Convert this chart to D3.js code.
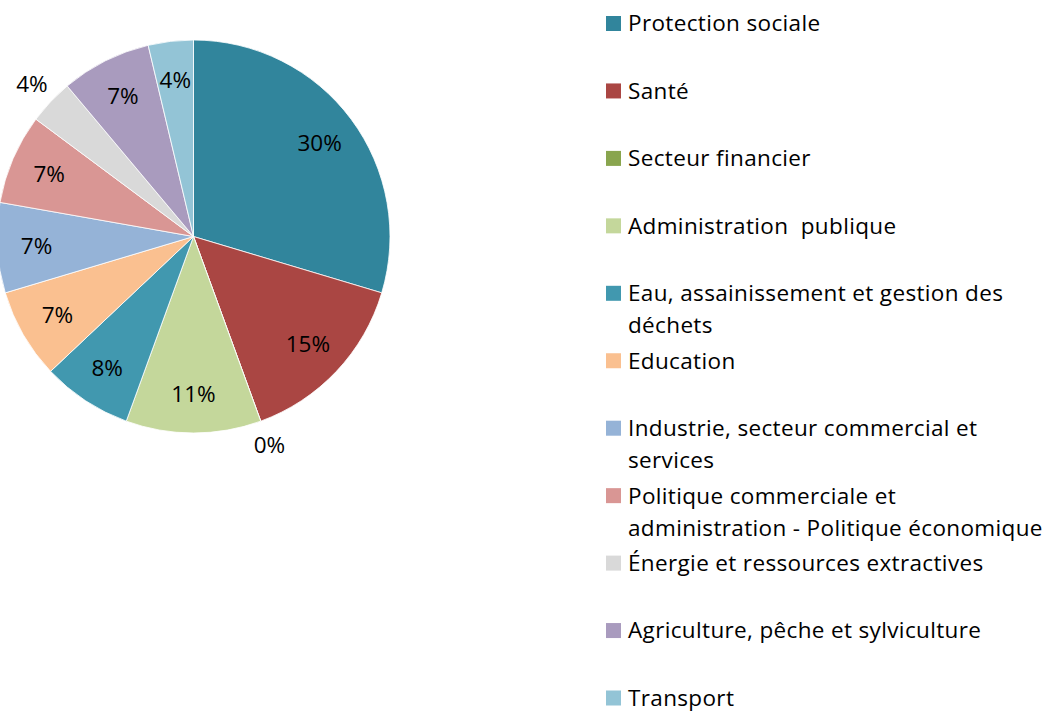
<!DOCTYPE html>
<html>
<head>
<meta charset="utf-8">
<script src="https://cdn.jsdelivr.net/npm/d3@7"></script>
<style>
  body { margin: 0; background: #fff; }
  svg text { font-family: "Open Sans", Lato, sans-serif; fill: #000; font-variant-ligatures: none; white-space: pre; }
</style>
</head>
<body>
<div id="chart"></div>
<script>
// secteurs, in the order of the legend (clockwise from 12 o'clock)
let categories = ['Protection sociale', 'Santé', 'Secteur financier', 'Administration  publique',
  'Eau, assainissement et gestion des déchets', 'Education', 'Industrie, secteur commercial et services',
  'Politique commerciale et administration - Politique économique', 'Énergie et ressources extractives',
  'Agriculture, pêche et sylviculture', 'Transport'];
// legend lines (wrapped as in the picture)
let legendLines = [['Protection sociale'], ['Santé'], ['Secteur financier'], ['Administration  publique'],
  ['Eau, assainissement et gestion des', 'déchets'], ['Education'], ['Industrie, secteur commercial et', 'services'],
  ['Politique commerciale et', 'administration - Politique économique'], ['Énergie et ressources extractives'],
  ['Agriculture, pêche et sylviculture'], ['Transport']];
// slice shares
let values = [29.6, 14.8, 0, 11.1, 7.4, 7.4, 7.4, 7.4, 3.7, 7.4, 3.7];
// data labels as printed
let labels = ['30%', '15%', '0%', '11%', '8%', '7%', '7%', '7%', '4%', '7%', '4%'];
let colors = ['#31859C', '#AA4643', '#89A54E', '#C4D79B', '#4198AF', '#FAC090', '#95B3D7',
  '#D99694', '#D9D9D9', '#A99BBE', '#93C4D6'];

let width = 1053, height = 711;
let cx = 193.5, cy = 236.5, radius = 196.5;
let outsideLabels = [2, 8]; // labels Excel put outside the pie

let svg = d3.select('#chart').append('svg')
  .attr('width', width)
  .attr('height', height);

let color = d3.scaleOrdinal().domain(categories).range(colors);

let pie = d3.pie().sort(null).value(d => d.value);
let arc = d3.arc().innerRadius(0).outerRadius(radius);
let labelArc = d3.arc().innerRadius(radius * 0.8).outerRadius(radius * 0.8);
let outArc = d3.arc().innerRadius(radius * 1.13).outerRadius(radius * 1.13);

let pieData = categories.map((c, i) => ({ label: c, value: values[i], text: labels[i], i: i }));

let g = svg.append('g').attr('transform', 'translate(' + cx + ',' + cy + ')');

g.selectAll('path')
  .data(pie(pieData))
  .enter()
  .append('path')
  .attr('d', arc)
  .attr('fill', d => color(d.data.label))
  .attr('stroke', '#fff')
  .attr('stroke-width', 0.8);

g.selectAll('text')
  .data(pie(pieData))
  .enter()
  .append('text')
  .attr('transform', d => 'translate(' + (outsideLabels.includes(d.data.i) ? outArc : labelArc).centroid(d) + ')')
  .attr('text-anchor', 'middle')
  .attr('dy', '0.35em')
  .style('font-size', '22.5px')
  .text(d => d.data.text);

// legend
let legendY = d3.scalePoint().domain(categories).range([23.5, 698]);

let legend = svg.append('g');
let item = legend.selectAll('g')
  .data(categories)
  .enter()
  .append('g')
  .attr('transform', d => 'translate(606,' + legendY(d) + ')');

item.append('rect')
  .attr('x', 0)
  .attr('y', -7.5)
  .attr('width', 15)
  .attr('height', 15)
  .attr('fill', d => color(d));

item.each(function(d, i) {
  let t = d3.select(this).append('text')
    .attr('x', 22)
    .style('font-size', '22.5px')
    .style('letter-spacing', '0.35px');
  legendLines[i].forEach((line, k) => {
    t.append('tspan')
      .attr('x', 22)
      .attr('y', k * 32)
      .attr('dy', '0.35em')
      .text(line);
  });
});
</script>
</body>
</html>
